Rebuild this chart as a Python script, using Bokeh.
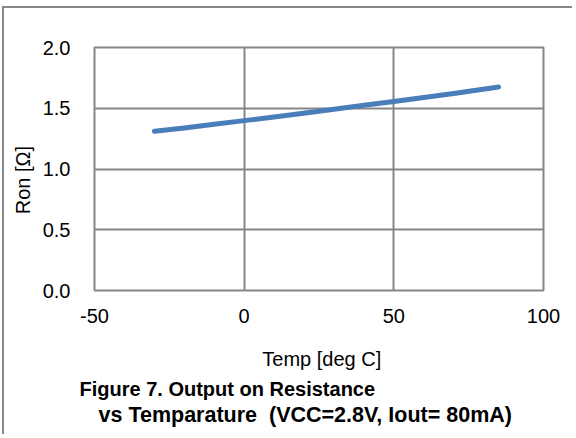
import math
from bokeh.plotting import figure
from bokeh.models import FixedTicker, PrintfTickFormatter, Range1d, Title
from bokeh.embed import file_html
from bokeh.resources import INLINE

# Data
temp = [-30, -20, -10, 0, 10, 25, 40, 50, 70, 85]
ron = [1.31, 1.338, 1.368, 1.398, 1.428, 1.475, 1.525, 1.556, 1.622, 1.675]
x_ticks = [-50, 0, 50, 100]
y_ticks = [0.0, 0.5, 1.0, 1.5, 2.0]

x_label = "\u00a0Temp [deg C]"
y_label = "Ron [\u03a9]\u00a0\u00a0\u00a0\u00a0"
title1 = "Figure 7.  Output on Resistance"
title2 = "vs Temparature\u00a0\u00a0(VCC=2.8V, Iout= 80mA)"

W, H = 570, 428
FONT = "Liberation Sans"
GRID = "#868686"

p = figure(width=W, height=H, output_backend="svg", toolbar_location=None,
           x_range=Range1d(-50, 100), y_range=Range1d(0, 2.0),
           min_border_left=90, min_border_right=31, min_border_top=39,
           min_border_bottom=146)
p.styles = {"margin-left": "2px", "margin-top": "6px",
            "border-left": "2px solid #868686", "border-top": "2px solid #868686"}

p.background_fill_color = "white"
p.border_fill_color = "white"
p.outline_line_color = GRID
p.outline_line_width = 2

for ax in (p.xaxis[0], p.yaxis[0]):
    ax.axis_line_color = None
    ax.major_tick_line_color = None
    ax.minor_tick_line_color = None
    ax.major_label_text_font = FONT
    ax.major_label_text_font_size = "20px"
    ax.major_label_text_color = "black"
    ax.axis_label_text_font = FONT
    ax.axis_label_text_font_size = "20px"
    ax.axis_label_text_font_style = "normal"
    ax.axis_label_text_color = "black"

p.xaxis.ticker = FixedTicker(ticks=x_ticks)
p.yaxis.ticker = FixedTicker(ticks=y_ticks)
p.xaxis.formatter = PrintfTickFormatter(format="%d")
p.yaxis.formatter = PrintfTickFormatter(format="%.1f")
p.xaxis.major_label_standoff = 12
p.yaxis.major_label_standoff = 18
p.xaxis.axis_label = x_label
p.yaxis.axis_label = y_label
p.xaxis.axis_label_standoff = 22
p.yaxis.axis_label_standoff = 6

p.xgrid.ticker = FixedTicker(ticks=x_ticks)
p.ygrid.ticker = FixedTicker(ticks=y_ticks)
for g in (p.xgrid[0], p.ygrid[0]):
    g.grid_line_color = GRID
    g.grid_line_width = 2

p.line(temp, ron, line_color="#4A7EBB", line_width=5, line_cap="round", line_join="round")

t1 = Title(text=title1, align="left", offset=-15, standoff=6,
           text_font=FONT, text_font_size="20px", text_font_style="bold", text_color="black")
t2 = Title(text=title2, align="left", offset=4, standoff=-4,
           text_font=FONT, text_font_size="21.5px", text_font_style="bold", text_color="black")
p.add_layout(t1, "below")
p.add_layout(t2, "below")

open("out.html", "w").write(file_html(p, INLINE))
